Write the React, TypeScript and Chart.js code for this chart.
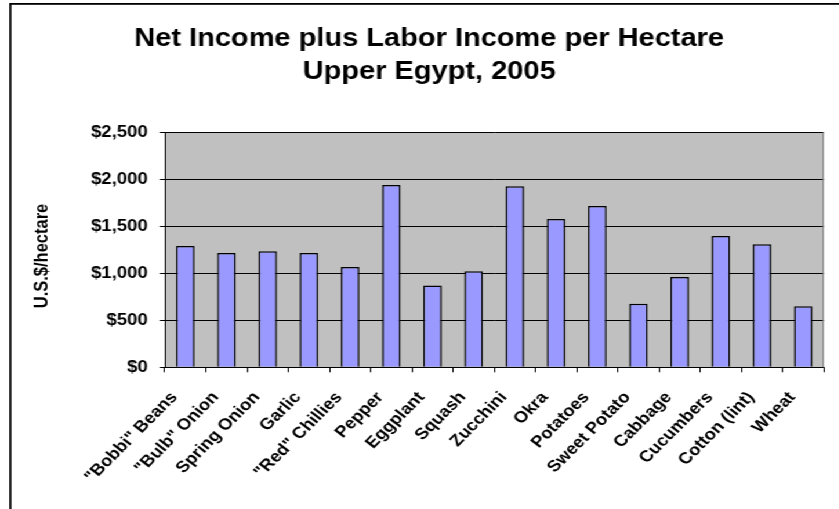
import React, { useEffect, useRef } from "react";
import { Chart, registerables } from "chart.js";

Chart.register(...registerables);

const titleLines = ["Net Income plus Labor Income per Hectare", "Upper Egypt, 2005"];
const yAxisTitle = "U.S.$/hectare";
const categories = [
  '"Bobbi" Beans',
  '"Bulb" Onion',
  "Spring Onion",
  "Garlic",
  '"Red" Chillies',
  "Pepper",
  "Eggplant",
  "Squash",
  "Zucchini",
  "Okra",
  "Potatoes",
  "Sweet Potato",
  "Cabbage",
  "Cucumbers",
  "Cotton (lint)",
  "Wheat",
];
const values = [1290, 1216, 1234, 1216, 1067, 1939, 869, 1021, 1926, 1578, 1716, 677, 961, 1397, 1309, 649];
const yMin = 0;
const yMax = 2500;
const yStep = 500;

const STRETCH = 1.16;
const W = Math.round(839 / STRETCH);
const H = 509;
const FONT = "'Liberation Sans', Arial, sans-serif";
const PAD_LEFT = 19;

const decorPlugin = {
  id: "decor",
  beforeDraw(chart: any) {
    const { ctx, chartArea } = chart;
    ctx.save();
    ctx.fillStyle = "#C0C0C0";
    ctx.fillRect(chartArea.left, chartArea.top, chartArea.right - chartArea.left, chartArea.bottom - chartArea.top);
    ctx.restore();
  },
  beforeDatasetsDraw(chart: any) {
    const { ctx, chartArea } = chart;
    ctx.save();
    ctx.strokeStyle = "#808080";
    ctx.lineWidth = 1;
    ctx.beginPath();
    ctx.moveTo(chartArea.right - 0.5, chartArea.top);
    ctx.lineTo(chartArea.right - 0.5, chartArea.bottom);
    ctx.stroke();
    ctx.restore();
  },
  afterDraw(chart: any) {
    const { ctx } = chart;
    ctx.save();
    // outer frame (left and top)
    ctx.fillStyle = "#000";
    ctx.fillRect(8, 3, 1.8, H);
    ctx.fillRect(8, 3, W, 1.8);
    // y axis title
    ctx.translate(36.2, 256);
    ctx.rotate(-Math.PI / 2);
    ctx.font = `bold 16.5px ${FONT}`;
    ctx.textAlign = "center";
    ctx.textBaseline = "middle";
    ctx.fillStyle = "#000";
    ctx.fillText(yAxisTitle, 0, 0);
    ctx.restore();
  },
};

export default function App() {
  const ref = useRef<HTMLCanvasElement | null>(null);
  useEffect(() => {
    if (!ref.current) return;
    const chart = new Chart(ref.current, {
      type: "bar",
      data: {
        labels: categories,
        datasets: [
          {
            data: values,
            backgroundColor: "#9999FF",
            borderColor: "#000",
            borderWidth: 1.5,
            barPercentage: 0.45,
            categoryPercentage: 1,
          },
        ],
      },
      options: {
        responsive: false,
        animation: false,
        devicePixelRatio: 1,
        layout: { padding: { left: PAD_LEFT, right: 2, top: 0, bottom: 0 } },
        plugins: {
          legend: { display: false },
          tooltip: { enabled: false },
          title: {
            display: true,
            text: titleLines,
            color: "#000",
            font: { family: FONT, size: 25, weight: "bold", lineHeight: 1.32 },
            padding: { top: 22.7, bottom: 43.6 },
          },
        },
        scales: {
          x: {
            afterFit: (s: any) => {
              s.height = 141.7;
            },
            grid: { drawOnChartArea: false, drawTicks: true, tickLength: 5, color: "#000", offset: true },
            border: { color: "#000", width: 1 },
            ticks: {
              autoSkip: false,
              maxRotation: 49,
              minRotation: 49,
              padding: 16,
              labelOffset: -9.5,
              color: "#000",
              font: { family: FONT, size: 16, weight: "bold" },
            },
          },
          y: {
            min: yMin,
            max: yMax,
            afterFit: (s: any) => {
              s.width = 142 - PAD_LEFT;
            },
            grid: { color: "#000", tickLength: 4.3, drawTicks: true },
            border: { color: "#000", width: 1 },
            ticks: {
              stepSize: yStep,
              padding: 10.3,
              color: "#000",
              font: { family: FONT, size: 16, weight: "bold" },
              callback: (v: any) => "$" + Number(v).toLocaleString("en-US"),
            },
          },
        },
      },
      plugins: [decorPlugin],
    });
    return () => chart.destroy();
  }, []);
  return (
    <div
      style={{
        position: "absolute",
        left: 0,
        top: 0,
        width: W,
        height: H,
        transform: `scaleX(${STRETCH})`,
        transformOrigin: "0 0",
        background: "#fff",
      }}
    >
      <canvas ref={ref} width={W} height={H} />
    </div>
  );
}
